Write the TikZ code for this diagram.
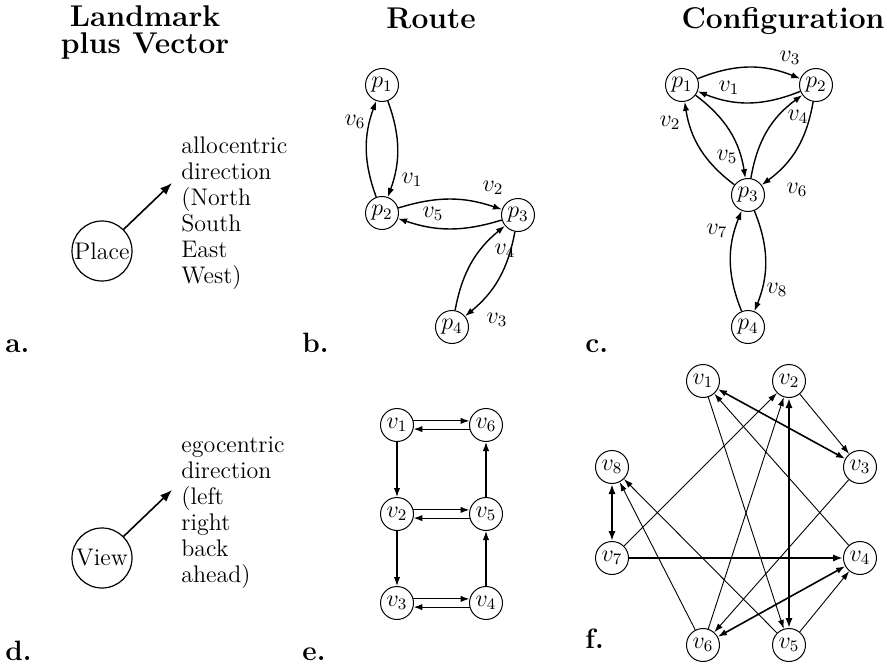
\documentclass[tikz,border=0pt]{standalone}
\usetikzlibrary{arrows.meta}
\begin{document}
\begin{tikzpicture}[x=0.5pt,y=-0.5pt,
  every node/.style={font=\fontsize{12}{13}\selectfont},
  ttl/.style={font=\fontsize{15}{15}\selectfont\bfseries,anchor=base,inner sep=0pt},
  lab/.style={font=\fontsize{14}{14}\selectfont\bfseries,anchor=base west,inner sep=0pt},
  st/.style={circle,draw,line width=0.5pt,minimum size=16.5pt,inner sep=0pt},
  big/.style={circle,draw,line width=0.6pt,minimum size=30pt,inner sep=0pt},
  el/.style={inner sep=0pt},
  txt/.style={anchor=north west,align=left,inner sep=0pt},
  bigar/.style={-{Latex[length=6pt,width=4.5pt]},line width=0.8pt},
  ar/.style={-{Latex[length=4.5pt,width=3.2pt]},line width=0.7pt},
  arw/.style={-{Latex[length=4.5pt,width=3.2pt]},line width=0.6pt},
  fthin/.style={-{Latex[length=4.5pt,width=3pt]},line width=0.45pt},
  fmed/.style={{Latex[length=4.5pt,width=3.2pt]}-{Latex[length=4.5pt,width=3.2pt]},line width=0.8pt},
  fthick/.style={line width=1.2pt},
]
\useasboundingbox (0,0) rectangle (891,664);

% titles
\node[ttl] (t1) at (145,26) {Landmark};
\node[ttl] (t2) at (145,54) {plus Vector};
\node[ttl] (t3) at (431,28) {Route};
\node[ttl] (t4) at (783,28) {Configuration};

% panel a
\node[big] (place) at (102,251) {Place};
\coordinate (aend) at (172,183);
\draw[bigar] (place.45) -- (aend);
\node[txt] (atext) at (181,136) {allocentric\\direction\\(North\\South\\East\\West)};
\node[lab] (la) at (5,352) {a.};

% panel d
\node[big] (view) at (102,558) {View};
\coordinate (dend) at (172,490);
\draw[bigar] (view.45) -- (dend);
\node[txt] (dtext) at (181,436) {egocentric\\direction\\(left\\right\\back\\ahead)};
\node[lab] (ld) at (5,660) {d.};

% panel b
\node[st] (b1) at (382,85) {$p_1$};
\node[st] (b2) at (382,213) {$p_2$};
\node[st] (b3) at (518,215) {$p_3$};
\node[st] (b4) at (452,327) {$p_4$};
\draw[ar] (b1) to[bend left=20] (b2);
\draw[ar] (b2) to[bend left=20] (b1);
\draw[ar] (b2) to[bend left=18] (b3);
\draw[ar] (b3) to[bend left=18] (b2);
\draw[ar] (b3) to[bend left=20] (b4);
\draw[ar] (b4) to[bend left=20] (b3);
\node[el] (lb6) at (355,122) {$v_6$};
\node[el] (lb1) at (412,180) {$v_1$};
\node[el] (lb2) at (493,188) {$v_2$};
\node[el] (lb5) at (433,214) {$v_5$};
\node[el] (lb4) at (505,251) {$v_4$};
\node[el] (lb3) at (497,320) {$v_3$};
\node[lab] (lbb) at (302,352) {b.};

% panel c
\node[st] (c1) at (682,85) {$p_1$};
\node[st] (c2) at (816,85) {$p_2$};
\node[st] (c3) at (748,195) {$p_3$};
\node[st] (c4) at (748,327) {$p_4$};
\draw[ar] (c1) to[bend left=22] (c2);
\draw[ar] (c2) to[bend left=22] (c1);
\draw[ar] (c1) to[bend left=22] (c3);
\draw[ar] (c3) to[bend left=22] (c1);
\draw[ar] (c2) to[bend left=22] (c3);
\draw[ar] (c3) to[bend left=22] (c2);
\draw[ar] (c3) to[bend left=22] (c4);
\draw[ar] (c4) to[bend left=22] (c3);
\node[el] (lc3) at (790,58) {$v_3$};
\node[el] (lc1) at (729,88) {$v_1$};
\node[el] (lc2) at (670,123) {$v_2$};
\node[el] (lc4) at (798,117) {$v_4$};
\node[el] (lc5) at (727,157) {$v_5$};
\node[el] (lc6) at (797,190) {$v_6$};
\node[el] (lc7) at (717,231) {$v_7$};
\node[el] (lc8) at (777,290) {$v_8$};
\node[lab] (lcc) at (585,352) {c.};

% panel e
\node[st] (e1) at (397,425) {$v_1$};
\node[st] (e6) at (486,425) {$v_6$};
\node[st] (e2) at (397,514) {$v_2$};
\node[st] (e5) at (486,514) {$v_5$};
\node[st] (e3) at (397,603) {$v_3$};
\node[st] (e4) at (486,603) {$v_4$};
\draw[arw] (e1.14) -- (e6.166);
\draw[arw] (e6.194) -- (e1.346);
\draw[arw] (e2.14) -- (e5.166);
\draw[arw] (e5.194) -- (e2.346);
\draw[arw] (e3.14) -- (e4.166);
\draw[arw] (e4.194) -- (e3.346);
\draw[arw] (e1) -- (e2);
\draw[arw] (e2) -- (e3);
\draw[arw] (e4) -- (e5);
\draw[arw] (e5) -- (e6);
\node[lab] (lee) at (302,660) {e.};

% panel f
\node[st] (f1) at (703,381) {$v_1$};
\node[st] (f2) at (789,381) {$v_2$};
\node[st] (f3) at (860,467) {$v_3$};
\node[st] (f4) at (860,558) {$v_4$};
\node[st] (f5) at (789,645) {$v_5$};
\node[st] (f6) at (703,645) {$v_6$};
\node[st] (f7) at (612,558) {$v_7$};
\node[st] (f8) at (612,467) {$v_8$};
\draw[fthick,-{Latex[length=5pt,width=3.6pt]}] (f7) -- (f4);
\draw[fthick,{Latex[length=5pt,width=3.6pt]}-{Latex[length=5pt,width=3.6pt]}] (f2) -- (f5);
\draw[fthick,{Latex[length=5pt,width=3.6pt]}-{Latex[length=5pt,width=3.6pt]}] (f8) -- (f7);
\draw[fmed] (f1) -- (f3);
\draw[fmed] (f6) -- (f4);
\draw[fthin] (f2) -- (f3);
\draw[fthin] (f4) -- (f1);
\draw[fthin] (f1) -- (f5);
\draw[fthin] (f7) -- (f2);
\draw[fthin] (f6) -- (f2);
\draw[fthin] (f3) -- (f6);
\draw[fthin] (f5) -- (f4);
\draw[fthin] (f6) -- (f8);
\draw[fthin] (f5) -- (f8);
\node[lab] (lff) at (585,648) {f.};
\end{tikzpicture}
\end{document}
